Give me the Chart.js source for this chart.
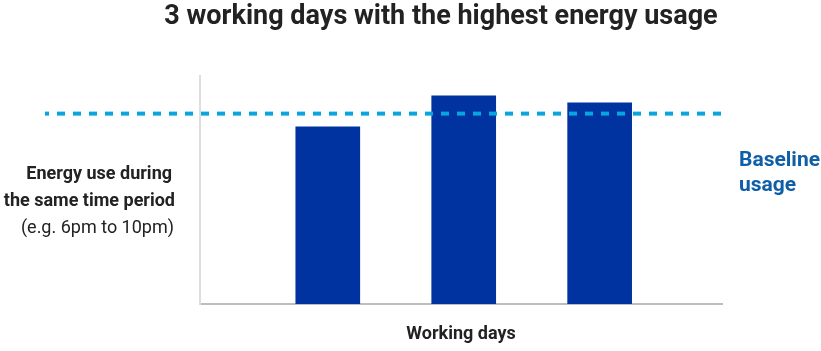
<!DOCTYPE html>
<html>
<head>
<meta charset="utf-8">
<script src="https://cdn.jsdelivr.net/npm/chart.js@4"></script>
<style>
  html, body { margin: 0; padding: 0; background: #ffffff; }
  #wrap { width: 821px; height: 351px; position: relative; }
</style>
</head>
<body>
<div id="wrap"><canvas id="c" width="821" height="351"></canvas></div>
<script>
// ---- data ----
const titleText = '3 working days with the highest energy usage';
const categories = ['Day 1', 'Day 2', 'Day 3'];
const dayPositions = [1, 2, 3];
const usageValues = [77.7, 91.3, 88.2];
const baselineValue = 83.5;
const xAxisTitle = 'Working days';
const yAxisTitleLines = ['Energy use during', 'the same time period', '(e.g. 6pm to 10pm)'];
const baselineLabelLines = ['Baseline', 'usage'];

const FONT = 'Roboto, "Liberation Sans", Arial, sans-serif';

const barData = dayPositions.map((x, i) => ({ x: x, y: usageValues[i] }));

const textPlugin = {
  id: 'textPlugin',
  afterDatasetsDraw(chart) {
    const ctx = chart.ctx;
    const area = chart.chartArea;
    const ys = chart.scales.y;
    const by = ys.getPixelForValue(baselineValue);
    ctx.save();
    ctx.strokeStyle = '#0aa5df';
    ctx.lineWidth = 4;
    ctx.setLineDash([8, 8]);
    ctx.lineDashOffset = 4;
    ctx.beginPath();
    ctx.moveTo(45, by);
    ctx.lineTo(area.right - 1, by);
    ctx.stroke();
    ctx.restore();
  },
  afterDraw(chart) {
    const ctx = chart.ctx;
    const area = chart.chartArea;
    ctx.save();
    ctx.fillStyle = '#222222';
    ctx.font = 'bold 27px ' + FONT;
    ctx.textAlign = 'center';
    ctx.textBaseline = 'middle';
    ctx.fillText(titleText, 441, 17);
    ctx.font = 'bold 18px ' + FONT;
    ctx.fillText(xAxisTitle, (area.left + area.right) / 2, 334);
    ctx.textAlign = 'right';
    ctx.font = 'bold 18px ' + FONT;
    ctx.fillText(yAxisTitleLines[0], 172, 174);
    ctx.fillText(yAxisTitleLines[1], 175, 201);
    ctx.font = '18px ' + FONT;
    ctx.fillText(yAxisTitleLines[2], 174, 228);
    ctx.textAlign = 'left';
    ctx.fillStyle = '#0f5fa8';
    ctx.font = 'bold 21px ' + FONT;
    ctx.fillText(baselineLabelLines[0], 739, 161);
    ctx.fillText(baselineLabelLines[1], 739, 186);
    ctx.restore();
  }
};

new Chart(document.getElementById('c'), {
  type: 'bar',
  data: {
    labels: categories,
    datasets: [{
      label: 'Energy use',
      data: barData,
      backgroundColor: '#0033a0',
      borderWidth: 0,
      barThickness: 64
    }]
  },
  options: {
    responsive: false,
    animation: false,
    layout: { padding: { left: 200, right: 99, top: 76, bottom: 47 } },
    plugins: {
      legend: { display: false },
      title: { display: false },
      tooltip: { enabled: false }
    },
    scales: {
      x: {
        type: 'linear',
        min: 0.06,
        max: 3.9,
        offset: false,
        grid: { display: false },
        ticks: { display: false },
        border: { display: true, color: '#bdbdbd', width: 2 },
        afterFit(scale) { scale.height = 0; }
      },
      y: {
        min: 0,
        max: 100,
        grid: { display: false },
        ticks: { display: false },
        border: { display: true, color: '#dddddd', width: 2 },
        afterFit(scale) { scale.width = 0; }
      }
    }
  },
  plugins: [textPlugin]
});
</script>
</body>
</html>
